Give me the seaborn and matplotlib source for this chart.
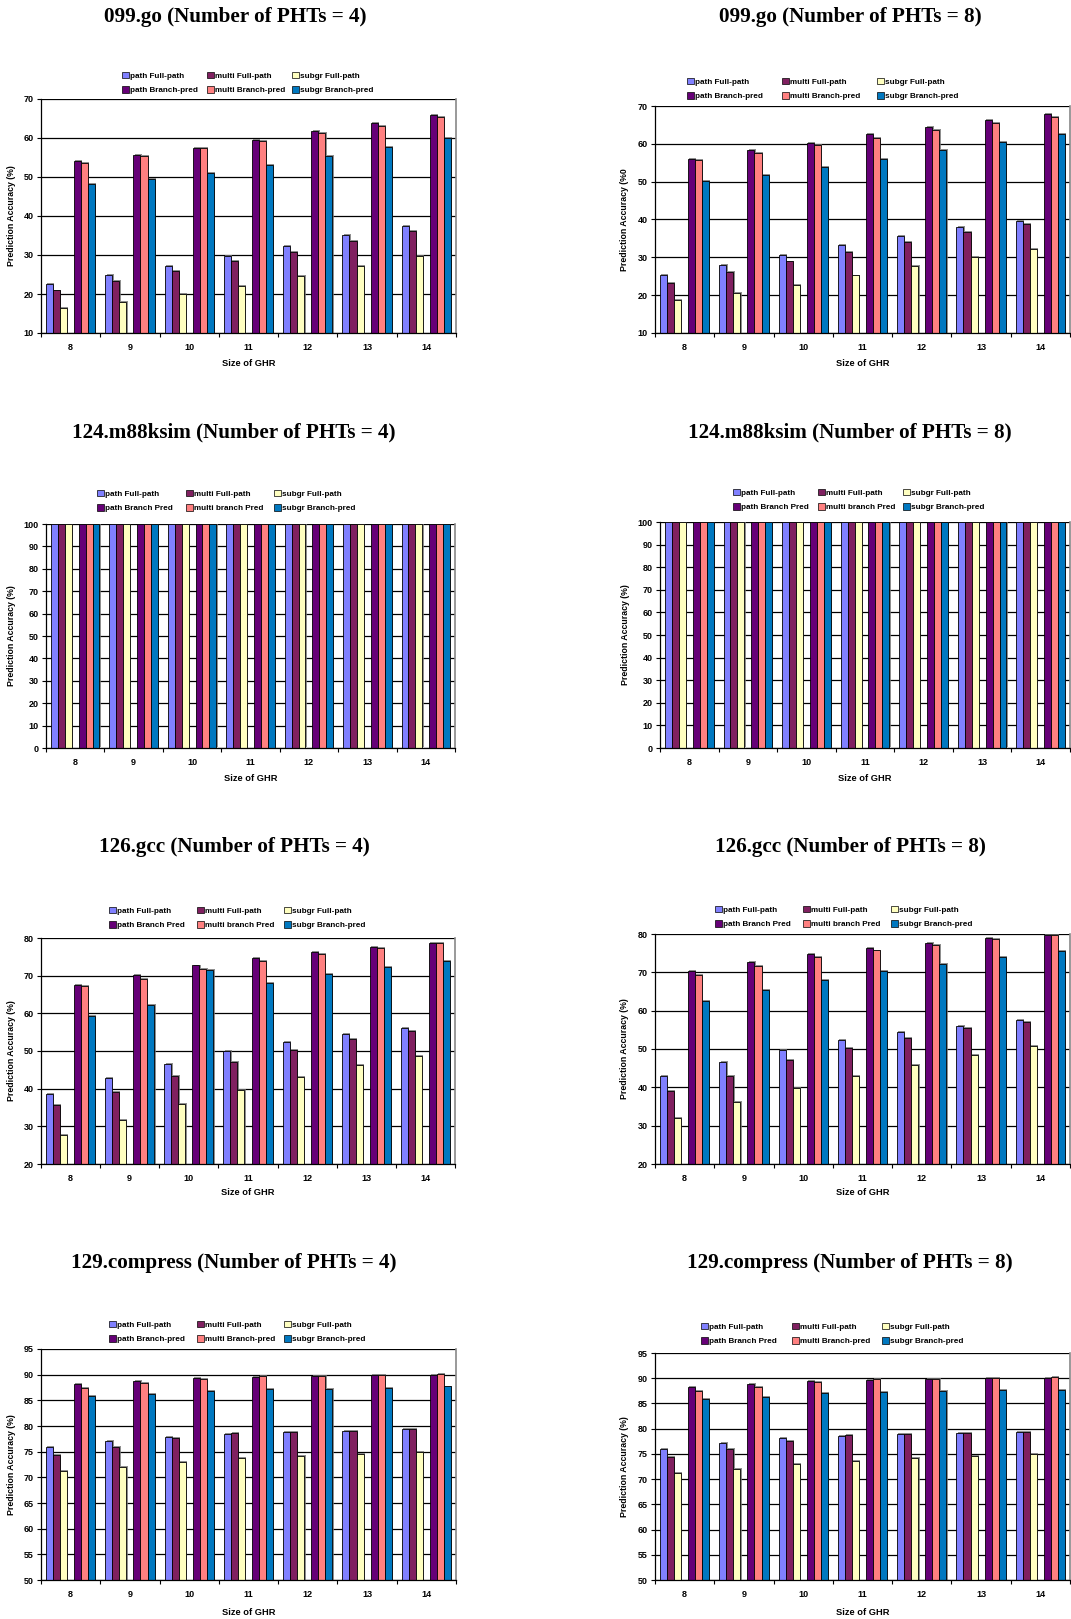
import matplotlib
matplotlib.use('Agg')
import numpy as np
import pandas as pd
import matplotlib.pyplot as plt
import matplotlib.patheffects as pe
from matplotlib.patches import Patch
from matplotlib.legend import Legend
import seaborn as sns

# x categories (size of GHR)
ghr = [8, 9, 10, 11, 12, 13, 14]

# series order: path FP, multi FP, subgr FP, path BP, multi BP, subgr BP
go_pht4 = [
    [22.6, 24.8, 27.2, 29.7, 32.4, 35.1, 37.5],
    [20.9, 23.4, 26.0, 28.4, 30.8, 33.6, 36.2],
    [16.4, 18.0, 19.9, 22.1, 24.5, 27.1, 29.7],
    [54.0, 55.7, 57.5, 59.5, 61.8, 63.9, 65.9],
    [53.7, 55.5, 57.4, 59.2, 61.2, 63.2, 65.3],
    [48.1, 49.4, 51.1, 53.1, 55.3, 57.8, 60.1],
]
go_pht8 = [
    [25.4, 28.1, 30.6, 33.2, 35.7, 37.9, 39.7],
    [23.3, 26.0, 28.9, 31.5, 34.0, 36.6, 38.8],
    [18.6, 20.6, 22.7, 25.2, 27.6, 30.0, 32.1],
    [56.1, 58.3, 60.3, 62.5, 64.4, 66.2, 67.8],
    [55.7, 57.5, 59.6, 61.6, 63.6, 65.5, 67.1],
    [50.1, 51.8, 53.8, 56.1, 58.4, 60.6, 62.5],
]
m88_pht4 = [
    [100, 100, 100, 100, 100, 100, 100],
    [100, 100, 100, 100, 100, 100, 100],
    [100, 100, 100, 100, 100, 100, 100],
    [100, 100, 100, 100, 100, 100, 100],
    [100, 100, 100, 100, 100, 100, 100],
    [100, 100, 100, 100, 100, 100, 100],
]
m88_pht8 = [
    [100, 100, 100, 100, 100, 100, 100],
    [100, 100, 100, 100, 100, 100, 100],
    [100, 100, 100, 100, 100, 100, 100],
    [100, 100, 100, 100, 100, 100, 100],
    [100, 100, 100, 100, 100, 100, 100],
    [100, 100, 100, 100, 100, 100, 100],
]
gcc_pht4 = [
    [38.6, 42.8, 46.6, 49.9, 52.3, 54.5, 56.1],
    [35.6, 39.0, 43.3, 47.0, 50.3, 53.3, 55.4],
    [27.8, 31.8, 36.0, 39.7, 43.2, 46.2, 48.6],
    [67.6, 70.3, 72.7, 74.8, 76.4, 77.7, 78.8],
    [67.2, 69.2, 71.7, 73.9, 75.8, 77.4, 78.7],
    [59.3, 62.3, 71.4, 68.0, 70.4, 72.4, 74.0],
]
gcc_pht8 = [
    [42.9, 46.7, 49.8, 52.3, 54.5, 56.1, 57.6],
    [39.1, 43.0, 47.2, 50.3, 52.8, 55.4, 57.0],
    [31.9, 36.1, 39.8, 43.0, 45.9, 48.5, 50.7],
    [70.3, 72.7, 74.7, 76.3, 77.7, 78.9, 79.8],
    [69.2, 71.6, 73.9, 75.7, 77.2, 78.6, 79.7],
    [62.4, 65.4, 68.0, 70.3, 72.3, 74.1, 75.5],
]
comp_pht4 = [
    [75.9, 77.0, 77.9, 78.5, 78.8, 79.1, 79.4],
    [74.4, 75.9, 77.6, 78.7, 78.8, 79.1, 79.4],
    [71.2, 72.1, 73.0, 73.7, 74.1, 74.5, 74.9],
    [88.2, 88.8, 89.4, 89.6, 89.7, 89.9, 89.9],
    [87.5, 88.3, 89.2, 89.8, 89.8, 89.9, 90.1],
    [85.9, 86.3, 86.9, 87.2, 87.3, 87.5, 87.7],
]
comp_pht8 = [
    [76.0, 77.2, 78.1, 78.5, 78.9, 79.2, 79.4],
    [74.4, 76.0, 77.6, 78.7, 78.9, 79.1, 79.4],
    [71.2, 72.1, 73.0, 73.6, 74.1, 74.5, 74.9],
    [88.3, 88.9, 89.4, 89.6, 89.9, 90.0, 90.0],
    [87.5, 88.3, 89.3, 89.8, 89.9, 90.0, 90.2],
    [85.9, 86.3, 87.0, 87.3, 87.4, 87.6, 87.7],
]

labels_dash = ['path Full-path', 'multi Full-path', 'subgr Full-path',
               'path Branch-pred', 'multi Branch-pred', 'subgr Branch-pred']
labels_pred = ['path Full-path', 'multi Full-path', 'subgr Full-path',
               'path Branch Pred', 'multi branch Pred', 'subgr Branch-pred']
labels_mix = ['path Full-path', 'multi Full-path', 'subgr Full-path',
              'path Branch Pred', 'multi Branch-pred', 'subgr Branch-pred']

series = ['path_fp', 'multi_fp', 'subgr_fp', 'gap', 'path_bp', 'multi_bp', 'subgr_bp']
colors = ['#8080FF', '#802060', '#FFFFC0', '#FFFFFF', '#660077', '#FF8080', '#0078C0']
palette = dict(zip(series, colors))
real_series = [s for s in series if s != 'gap']

W, H = 1071, 1619
fig = plt.figure(figsize=(W / 100, H / 100), dpi=100)
SANS = 'Liberation Sans'

charts = [
    # title, data, labels, ylim, ystep, ylabel, axes box, title centre, legend x cols, legend y centre, ylabel x, xlabel y
    ('099.go (Number of PHTs = 4)', go_pht4, labels_dash, (10, 70), 10, 'Prediction Accuracy (%)',
     (41, 99, 456, 333), (235, 17), (122, 207, 292), 83, 16, 359),
    ('099.go (Number of PHTs = 8)', go_pht8, labels_dash, (10, 70), 10, 'Prediction Accuracy (%0',
     (655, 106, 1070, 333), (850, 17), (687, 782, 877), 89, 629, 359),
    ('124.m88ksim (Number of PHTs = 4)', m88_pht4, labels_pred, (0, 100), 10, 'Prediction Accuracy (%)',
     (46, 524, 455, 748), (234, 432), (97, 186, 274), 501, 16, 774),
    ('124.m88ksim (Number of PHTs = 8)', m88_pht8, labels_pred, (0, 100), 10, 'Prediction Accuracy (%)',
     (660, 522, 1070, 748), (850, 432), (733, 818, 903), 500, 630, 774),
    ('126.gcc (Number of PHTs = 4)', gcc_pht4, labels_pred, (20, 80), 10, 'Prediction Accuracy (%)',
     (41, 938, 455, 1164), (234, 847), (109, 197, 284), 918, 16, 1188),
    ('126.gcc (Number of PHTs = 8)', gcc_pht8, labels_pred, (20, 80), 10, 'Prediction Accuracy (%)',
     (655, 934, 1070, 1164), (850, 847), (715, 803, 891), 917, 629, 1188),
    ('129.compress (Number of PHTs = 4)', comp_pht4, labels_dash, (50, 95), 5, 'Prediction Accuracy (%)',
     (41, 1349, 456, 1580), (234, 1263), (109, 197, 284), 1332, 16, 1608),
    ('129.compress (Number of PHTs = 8)', comp_pht8, labels_mix, (50, 95), 5, 'Prediction Accuracy (%)',
     (655, 1353, 1070, 1580), (850, 1263), (701, 792, 882), 1334, 629, 1608),
]

for (title, data, labels, ylim, ystep, ylabel, box, tpos, legx, legy, ylx, xly) in charts:
    x0, y0, x1, y1 = box
    ax = fig.add_axes([x0 / W, 1 - y1 / H, (x1 - x0) / W, (y1 - y0) / H])

    rows = []
    for key in series:
        for i, g in enumerate(ghr):
            if key == 'gap':
                val = np.nan
            else:
                val = data[real_series.index(key)][i]
            rows.append({'ghr': g, 'series': key, 'acc': val})
    df = pd.DataFrame(rows)

    sns.barplot(data=df, x='ghr', y='acc', hue='series', hue_order=series,
                palette=palette, saturation=1, width=0.83, errorbar=None,
                edgecolor='black', linewidth=0.6, legend=False, ax=ax)
    for p in ax.patches:
        p.set_path_effects([pe.SimplePatchShadow(offset=(0.9, 0.7), shadow_rgbFace=(0.45, 0.45, 0.45), alpha=0.8),
                            pe.Normal()])

    ax.set_xlim(-0.5, 6.5)
    ax.set_ylim(*ylim)
    ax.set_yticks(np.arange(ylim[0], ylim[1] + 0.1, ystep))
    ax.yaxis.grid(True, color='black', linewidth=0.9)
    ax.set_axisbelow(True)
    ax.set_xticks(range(7))
    ax.set_xticklabels([str(g) for g in ghr])
    ax.set_xticks(np.arange(-0.5, 7, 1), minor=True)
    ax.tick_params(axis='x', which='major', length=0, pad=7)
    ax.tick_params(axis='x', which='minor', length=3, width=0.8, color='black')
    ax.tick_params(axis='y', length=3, width=0.8, pad=2.5)
    for lab in ax.get_xticklabels() + ax.get_yticklabels():
        lab.set_fontfamily(SANS)
        lab.set_fontweight('bold')
        lab.set_fontsize(6.5)

    for side in ['left', 'bottom']:
        ax.spines[side].set_color('black')
        ax.spines[side].set_linewidth(0.9)
    ax.spines['top'].set_visible(False)
    ax.spines['right'].set_color('#888888')
    ax.spines['right'].set_linewidth(1.2)

    ax.set_ylabel(ylabel, fontfamily=SANS, fontweight='bold', fontsize=6.3)
    ax.set_xlabel('Size of GHR', fontfamily=SANS, fontweight='bold', fontsize=6.7)
    ax.yaxis.set_label_coords((ylx - x0) / (x1 - x0), 0.5)
    ax.xaxis.set_label_coords(0.5, (y1 - xly) / (y1 - y0))

    # legend: three columns, two rows each
    for c in range(3):
        handles = [Patch(facecolor=palette[real_series[c]], edgecolor='black', linewidth=0.5),
                   Patch(facecolor=palette[real_series[c + 3]], edgecolor='black', linewidth=0.5)]
        leg = Legend(ax, handles, [labels[c], labels[c + 3]], loc='center left',
                     bbox_to_anchor=(legx[c] / W, 1 - legy / H), bbox_transform=fig.transFigure,
                     frameon=False, prop={'family': SANS, 'weight': 'bold', 'size': 5.9},
                     handlelength=0.8, handleheight=0.8, handletextpad=0.2,
                     labelspacing=0.85, borderpad=0, borderaxespad=0)
        ax.add_artist(leg)

    fig.text(tpos[0] / W, 1 - tpos[1] / H, title, ha='center', va='center',
             fontsize=15.2, fontfamily='Liberation Serif', fontweight='bold')

fig.savefig('out.png', dpi=100)
